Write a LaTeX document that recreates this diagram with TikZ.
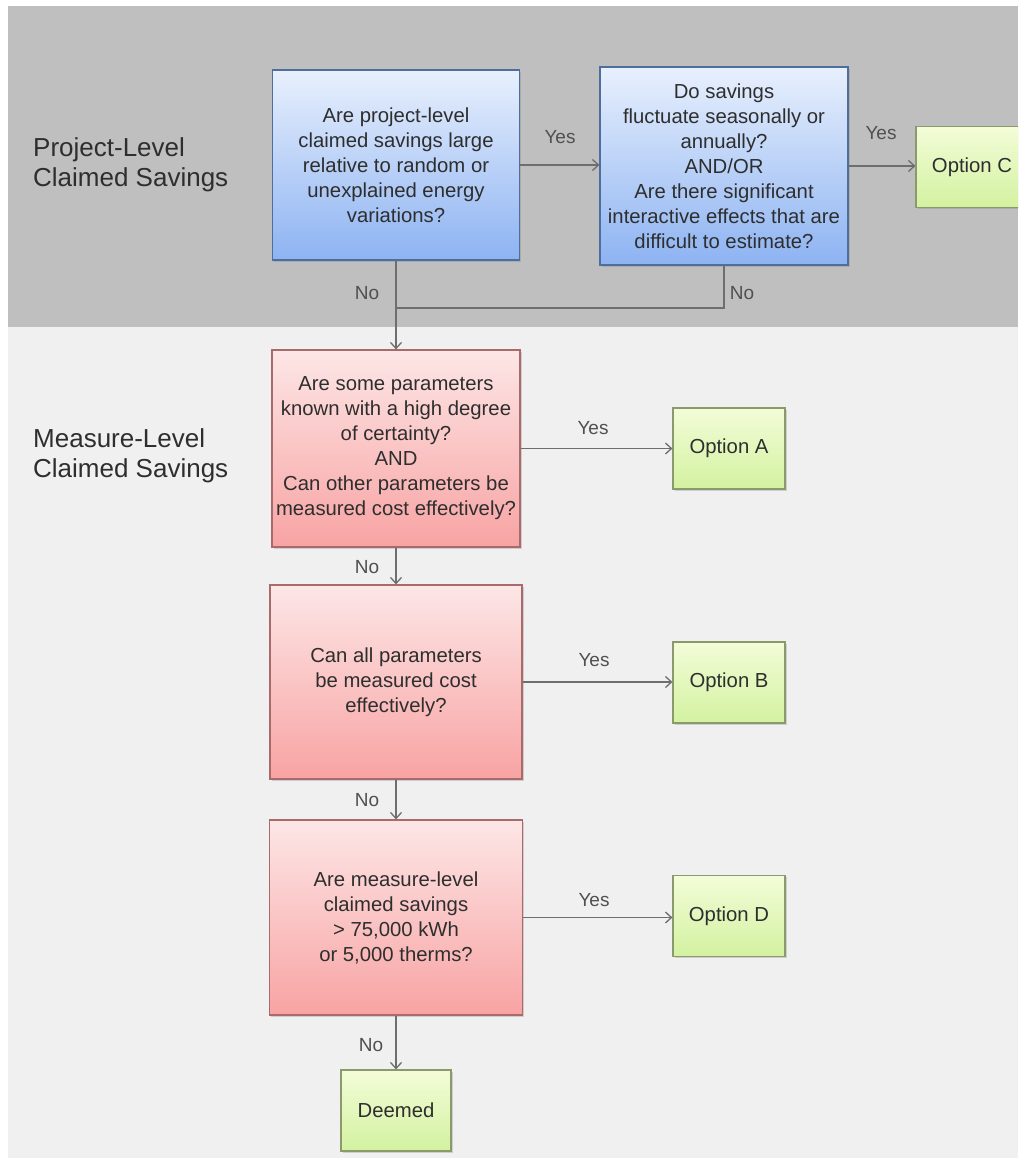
\documentclass[tikz,border=0pt]{standalone}
\usepackage{fontspec}
\setmainfont{Liberation Sans}
\usetikzlibrary{arrows.meta,shadows,calc}
\definecolor{bandgrey}{HTML}{BFBFBF}
\definecolor{lightbg}{HTML}{F0F0F0}
\definecolor{txt}{HTML}{2E2E2E}
\definecolor{lbl}{HTML}{505050}
\definecolor{linec}{HTML}{6E6E6E}
\definecolor{bluetop}{HTML}{E8F0FD}
\definecolor{bluebot}{HTML}{8DB3F2}
\definecolor{blueedge}{HTML}{4E6E9E}
\definecolor{redtop}{HTML}{FDE6E6}
\definecolor{redbot}{HTML}{F8A3A3}
\definecolor{rededge}{HTML}{A86A6A}
\definecolor{greentop}{HTML}{F3FCD8}
\definecolor{greenbot}{HTML}{D3F2A0}
\definecolor{greenedge}{HTML}{8A9A6C}
\tikzset{
  boxbase/.style={rectangle, line width=1.2pt, align=center, text=txt,
    font=\fontsize{20.3}{25}\selectfont, inner sep=2pt,
    drop shadow={shadow xshift=1.5pt, shadow yshift=-1.8pt, opacity=0.3}},
  bluebox/.style={boxbase, draw=blueedge, top color=bluetop, bottom color=bluebot},
  redbox/.style={boxbase, draw=rededge, top color=redtop, bottom color=redbot},
  greenbox/.style={boxbase, draw=greenedge, top color=greentop, bottom color=greenbot,
    minimum width=112pt, minimum height=81pt},
  conn/.style={draw=linec, line width=1.3pt},
  arr/.style={conn, -{Straight Barb[length=6pt,width=11pt,line width=1.3pt]}},
  edgelabel/.style={text=lbl, font=\fontsize{19}{22}\selectfont},
  sidelabel/.style={text=txt, align=left, anchor=west, inner sep=0pt, font=\fontsize{26}{30}\selectfont}
}
\begin{document}
\begin{tikzpicture}[x=1pt,y=-1pt]
\clip (0,0) rectangle (1018,1158);
\fill[white] (0,0) rectangle (1018,1158);
\fill[bandgrey] (8,6) rectangle (1018,327);
\fill[lightbg] (8,327) rectangle (1018,1159);

\node[sidelabel] (lab1) at (33,165) {Project-Level\\Claimed Savings};
\node[sidelabel] (lab2) at (33,456) {Measure-Level\\Claimed Savings};

\node[bluebox, minimum width=247pt, minimum height=190pt] (q1) at (396,165)
  {Are project-level\\claimed savings large\\relative to random or\\unexplained energy\\variations?};
\node[bluebox, minimum width=248pt, minimum height=198pt] (q2) at (724,166)
  {Do savings\\fluctuate seasonally or\\annually?\\AND/OR\\Are there significant\\interactive effects that are\\difficult to estimate?};
\node[greenbox] (oc) at (972,167) {Option C};

\node[redbox, minimum width=248pt, minimum height=197pt] (q3) at (396,448.5)
  {Are some parameters\\known with a high degree\\of certainty?\\AND\\Can other parameters be\\measured cost effectively?};
\node[greenbox] (oa) at (729,448.5) {Option A};

\node[redbox, minimum width=252pt, minimum height=194pt] (q4) at (396,682)
  {Can all parameters\\be measured cost\\effectively?};
\node[greenbox] (ob) at (729,682.5) {Option B};

\node[redbox, minimum width=253pt, minimum height=195pt] (q5) at (396,917.5)
  {Are measure-level\\claimed savings\\> 75,000 kWh\\or 5,000 therms?};
\node[greenbox] (od) at (729,916) {Option D};

\node[greenbox, minimum width=110pt] (dm) at (396,1110.5) {Deemed};

\coordinate (j) at (396,308);

\draw[arr] (q1.east) -- (q1.east -| q2.west);
\draw[arr] (q2.east) -- (q2.east -| oc.west);
\draw[conn] (q2.south) |- (j);
\draw[arr] (q1.south) -- (q3.north);
\draw[arr] (q3.east) -- (q3.east -| oa.west);
\draw[arr] (q3.south) -- (q4.north);
\draw[arr] (q4.east) -- (q4.east -| ob.west);
\draw[arr] (q4.south) -- (q5.north);
\draw[arr] (q5.east) -- (q5.east -| od.west);
\draw[arr] (q5.south) -- (dm.north);

\node[edgelabel] (y1) at (560,137) {Yes};
\node[edgelabel] (y2) at (881,133) {Yes};
\node[edgelabel] (n1) at (367,293) {No};
\node[edgelabel] (n2) at (742,293) {No};
\node[edgelabel] (y3) at (593,428) {Yes};
\node[edgelabel] (n3) at (367,567) {No};
\node[edgelabel] (y4) at (594,660) {Yes};
\node[edgelabel] (n4) at (367,800) {No};
\node[edgelabel] (y5) at (594,900) {Yes};
\node[edgelabel] (n5) at (371,1045) {No};
\end{tikzpicture}
\end{document}
